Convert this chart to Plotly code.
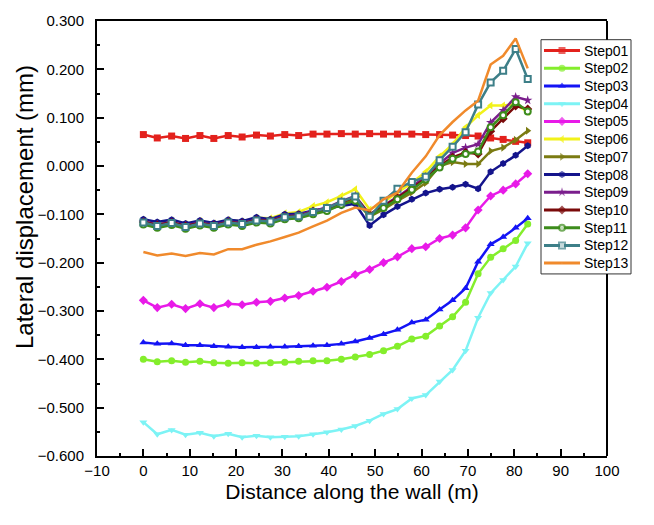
import plotly.graph_objects as go

# Distance along the wall (m)
x = [0, 3.0, 6.1, 9.1, 12.2, 15.2, 18.3, 21.3, 24.4, 27.4, 30.5, 33.5, 36.6, 39.6,
     42.7, 45.7, 48.8, 51.8, 54.8, 57.9, 60.9, 63.9, 66.7, 69.5, 72.2, 74.9, 77.6, 80.3, 82.9]

step01 = [0.065, 0.058, 0.062, 0.057, 0.063, 0.057, 0.063, 0.060, 0.064, 0.062, 0.065, 0.063, 0.066, 0.066,
          0.067, 0.066, 0.067, 0.066, 0.066, 0.066, 0.065, 0.065, 0.064, 0.063, 0.062, 0.058, 0.055, 0.051, 0.048]
step02 = [-0.400, -0.405, -0.403, -0.406, -0.404, -0.407, -0.408, -0.407, -0.408, -0.407, -0.406, -0.404, -0.403, -0.403,
          -0.400, -0.395, -0.390, -0.382, -0.373, -0.358, -0.352, -0.331, -0.312, -0.282, -0.223, -0.189, -0.171, -0.154, -0.120]
step03 = [-0.365, -0.368, -0.367, -0.371, -0.371, -0.373, -0.374, -0.375, -0.375, -0.374, -0.374, -0.373, -0.372, -0.371,
          -0.368, -0.363, -0.356, -0.348, -0.339, -0.324, -0.318, -0.297, -0.278, -0.253, -0.198, -0.162, -0.147, -0.128, -0.108]
step04 = [-0.530, -0.555, -0.546, -0.556, -0.552, -0.559, -0.554, -0.561, -0.558, -0.561, -0.560, -0.559, -0.555, -0.551,
          -0.545, -0.538, -0.527, -0.513, -0.503, -0.481, -0.474, -0.446, -0.422, -0.382, -0.314, -0.263, -0.236, -0.208, -0.160]
step05 = [-0.278, -0.293, -0.286, -0.295, -0.285, -0.293, -0.285, -0.287, -0.282, -0.280, -0.273, -0.268, -0.259, -0.251,
          -0.239, -0.225, -0.214, -0.200, -0.188, -0.171, -0.167, -0.150, -0.143, -0.128, -0.091, -0.062, -0.050, -0.037, -0.016]
step06 = [-0.112, -0.118, -0.113, -0.120, -0.114, -0.119, -0.112, -0.115, -0.107, -0.108, -0.098, -0.095, -0.083, -0.075,
          -0.062, -0.048, -0.090, -0.075, -0.055, -0.035, -0.012, 0.020, 0.045, 0.080, 0.105, 0.125, 0.125, 0.128, 0.112]
step07 = [-0.118, -0.124, -0.119, -0.126, -0.120, -0.125, -0.118, -0.121, -0.115, -0.117, -0.108, -0.106, -0.098, -0.090,
          -0.078, -0.068, -0.105, -0.090, -0.072, -0.055, -0.035, 0.000, 0.008, 0.004, 0.004, 0.031, 0.038, 0.054, 0.073]
step08 = [-0.110, -0.116, -0.111, -0.119, -0.113, -0.118, -0.111, -0.114, -0.106, -0.110, -0.100, -0.099, -0.092, -0.087,
          -0.082, -0.078, -0.123, -0.101, -0.084, -0.069, -0.056, -0.048, -0.044, -0.038, -0.047, -0.012, 0.005, 0.022, 0.042]
step09 = [-0.115, -0.121, -0.116, -0.123, -0.117, -0.122, -0.115, -0.118, -0.111, -0.113, -0.104, -0.102, -0.093, -0.086,
          -0.073, -0.062, -0.100, -0.082, -0.064, -0.043, -0.022, 0.005, 0.027, 0.038, 0.045, 0.090, 0.115, 0.143, 0.136]
step10 = [-0.116, -0.122, -0.117, -0.124, -0.118, -0.123, -0.116, -0.119, -0.112, -0.114, -0.105, -0.103, -0.095, -0.088,
          -0.075, -0.064, -0.101, -0.084, -0.066, -0.046, -0.026, 0.000, 0.018, 0.028, 0.025, 0.072, 0.098, 0.124, 0.118]
step11 = [-0.121, -0.128, -0.122, -0.130, -0.123, -0.128, -0.121, -0.124, -0.117, -0.119, -0.110, -0.108, -0.100, -0.093,
          -0.080, -0.072, -0.104, -0.087, -0.069, -0.049, -0.028, -0.003, 0.015, 0.025, 0.030, 0.080, 0.105, 0.132, 0.113]
step12 = [-0.117, -0.124, -0.118, -0.126, -0.119, -0.124, -0.117, -0.120, -0.113, -0.115, -0.106, -0.104, -0.095, -0.087,
          -0.074, -0.063, -0.105, -0.072, -0.047, -0.033, -0.022, 0.012, 0.040, 0.070, 0.127, 0.173, 0.197, 0.242, 0.180]
step13 = [-0.178, -0.185, -0.181, -0.186, -0.180, -0.183, -0.172, -0.172, -0.163, -0.156, -0.147, -0.138, -0.125, -0.113,
          -0.097, -0.086, -0.092, -0.069, -0.055, -0.014, 0.020, 0.064, 0.091, 0.115, 0.135, 0.210, 0.228, 0.264, 0.202]

names = ["Step01", "Step02", "Step03", "Step04", "Step05", "Step06", "Step07",
         "Step08", "Step09", "Step10", "Step11", "Step12", "Step13"]
series = [step01, step02, step03, step04, step05, step06, step07,
          step08, step09, step10, step11, step12, step13]
colors = ["#E3211C", "#84EE2C", "#1414F5", "#7DF3F5", "#E81AE8", "#F2F21A", "#7B7B12",
          "#14148C", "#7A1E8C", "#7A0A0A", "#3D8C1C", "#3D7F88", "#F08A2C"]
symbols = ["square", "circle", "triangle-up", "triangle-down", "diamond", "triangle-left",
           "triangle-right", "hexagon", "star", "diamond", "circle", "square", "circle"]

FONT = "Arial, Liberation Sans, sans-serif"


def marker_for(nm, c, s, size):
    if nm == "Step13":
        return dict(size=0.1, color=c, symbol="circle")
    if nm in ("Step11", "Step12"):
        return dict(size=size - 1, color="white", symbol=s, line=dict(color=c, width=2))
    return dict(size=size, color=c, symbol=s, line=dict(width=0))


fig = go.Figure()
for nm, ys, c, s in zip(names, series, colors, symbols):
    fig.add_trace(go.Scatter(
        x=x, y=ys, name=nm, showlegend=False,
        mode="lines" if nm == "Step13" else "lines+markers",
        line=dict(color=c, width=2.5), marker=marker_for(nm, c, s, 7)))

# ---- legend drawn on a pixel-scaled overlay axis pair (x2/y2) ----
PL, PR, PT, PB = 97, 607, 14, 456          # plot area in pixels
W, H = 654, 525
LX0 = 543                                   # overlay axis starts here (px)
ROW0, ROWH = 44, 18.0
annotations = []
for i, (nm, c, s) in enumerate(zip(names, colors, symbols)):
    yy = ROW0 + ROWH * i
    mk = marker_for(nm, c, s, 7)
    mk = dict(mk, size=[0, mk["size"], 0])
    fig.add_trace(go.Scatter(
        x=[544, 562, 580], y=[yy, yy, yy], xaxis="x2", yaxis="y2",
        mode="lines+markers", showlegend=False, hoverinfo="skip",
        line=dict(color=c, width=3), marker=mk))
    annotations.append(dict(
        x=582, y=yy, xref="x2", yref="y2", text=nm, showarrow=False,
        xanchor="left", yanchor="middle", font=dict(size=14, family=FONT, color="black")))


def px_x(p):
    return (p - PL) / (PR - PL)


def px_y(p):
    return 1 - (p - PT) / (PB - PT)


LEG_TOP, LEG_BOT, LEG_L, LEG_R = 33, 271, 541, 631
shapes = [
    dict(type="rect", xref="paper", yref="paper",
         x0=px_x(LEG_L), x1=px_x(LEG_R), y0=px_y(LEG_BOT), y1=px_y(LEG_TOP),
         line=dict(color="#333333", width=1), fillcolor="white", layer="below"),
    # right frame line, interrupted by the legend box
    dict(type="line", xref="paper", yref="paper", x0=1, x1=1, y0=px_y(LEG_TOP), y1=1.0,
         line=dict(color="black", width=2), layer="above"),
    dict(type="line", xref="paper", yref="paper", x0=1, x1=1, y0=0, y1=px_y(LEG_BOT),
         line=dict(color="black", width=2), layer="above"),
]

# y axis title as rotated annotation
annotations.append(dict(
    x=px_x(24), y=px_y(203), xref="paper", yref="paper", text="Lateral displacement (mm)",
    textangle=-90, showarrow=False, xanchor="center", yanchor="middle",
    font=dict(size=24, family=FONT, color="black")))

axis_font = dict(family=FONT, size=15, color="black")
fig.update_layout(
    width=W, height=H,
    margin=dict(l=PL, r=W - PR, t=PT, b=H - PB),
    paper_bgcolor="white", plot_bgcolor="rgba(0,0,0,0)",
    font=dict(family=FONT, color="black"),
    showlegend=False,
    annotations=annotations, shapes=shapes,
    xaxis=dict(
        domain=[0, 1], anchor="y",
        range=[-10, 100], dtick=10, tick0=0, tickmode="linear",
        showline=True, linecolor="black", linewidth=2, mirror=True,
        ticks="inside", ticklen=7, tickwidth=2, tickcolor="black",
        minor=dict(ticks="inside", ticklen=3, tickwidth=2, dtick=5, tickcolor="black"),
        showgrid=False, zeroline=False, tickfont=axis_font,
        title=dict(text="Distance along the wall (m)", font=dict(size=21, family=FONT), standoff=6),
    ),
    yaxis=dict(
        domain=[0, 1], anchor="x",
        range=[-0.6, 0.3], dtick=0.1, tick0=0, tickmode="linear", tickformat=".3f",
        showline=True, linecolor="black", linewidth=2, mirror=False,
        ticks="inside", ticklen=7, tickwidth=2, tickcolor="black",
        minor=dict(ticks="inside", ticklen=3, tickwidth=2, dtick=0.05, tickcolor="black"),
        showgrid=False, zeroline=False, tickfont=axis_font, ticklabelstandoff=8,
    ),
    xaxis2=dict(domain=[px_x(LX0), 1], range=[LX0, PR], anchor="y2", visible=False, fixedrange=True),
    yaxis2=dict(domain=[0, 1], range=[PB, PT], anchor="x2", visible=False, fixedrange=True),
)

fig.write_html("out.html")
